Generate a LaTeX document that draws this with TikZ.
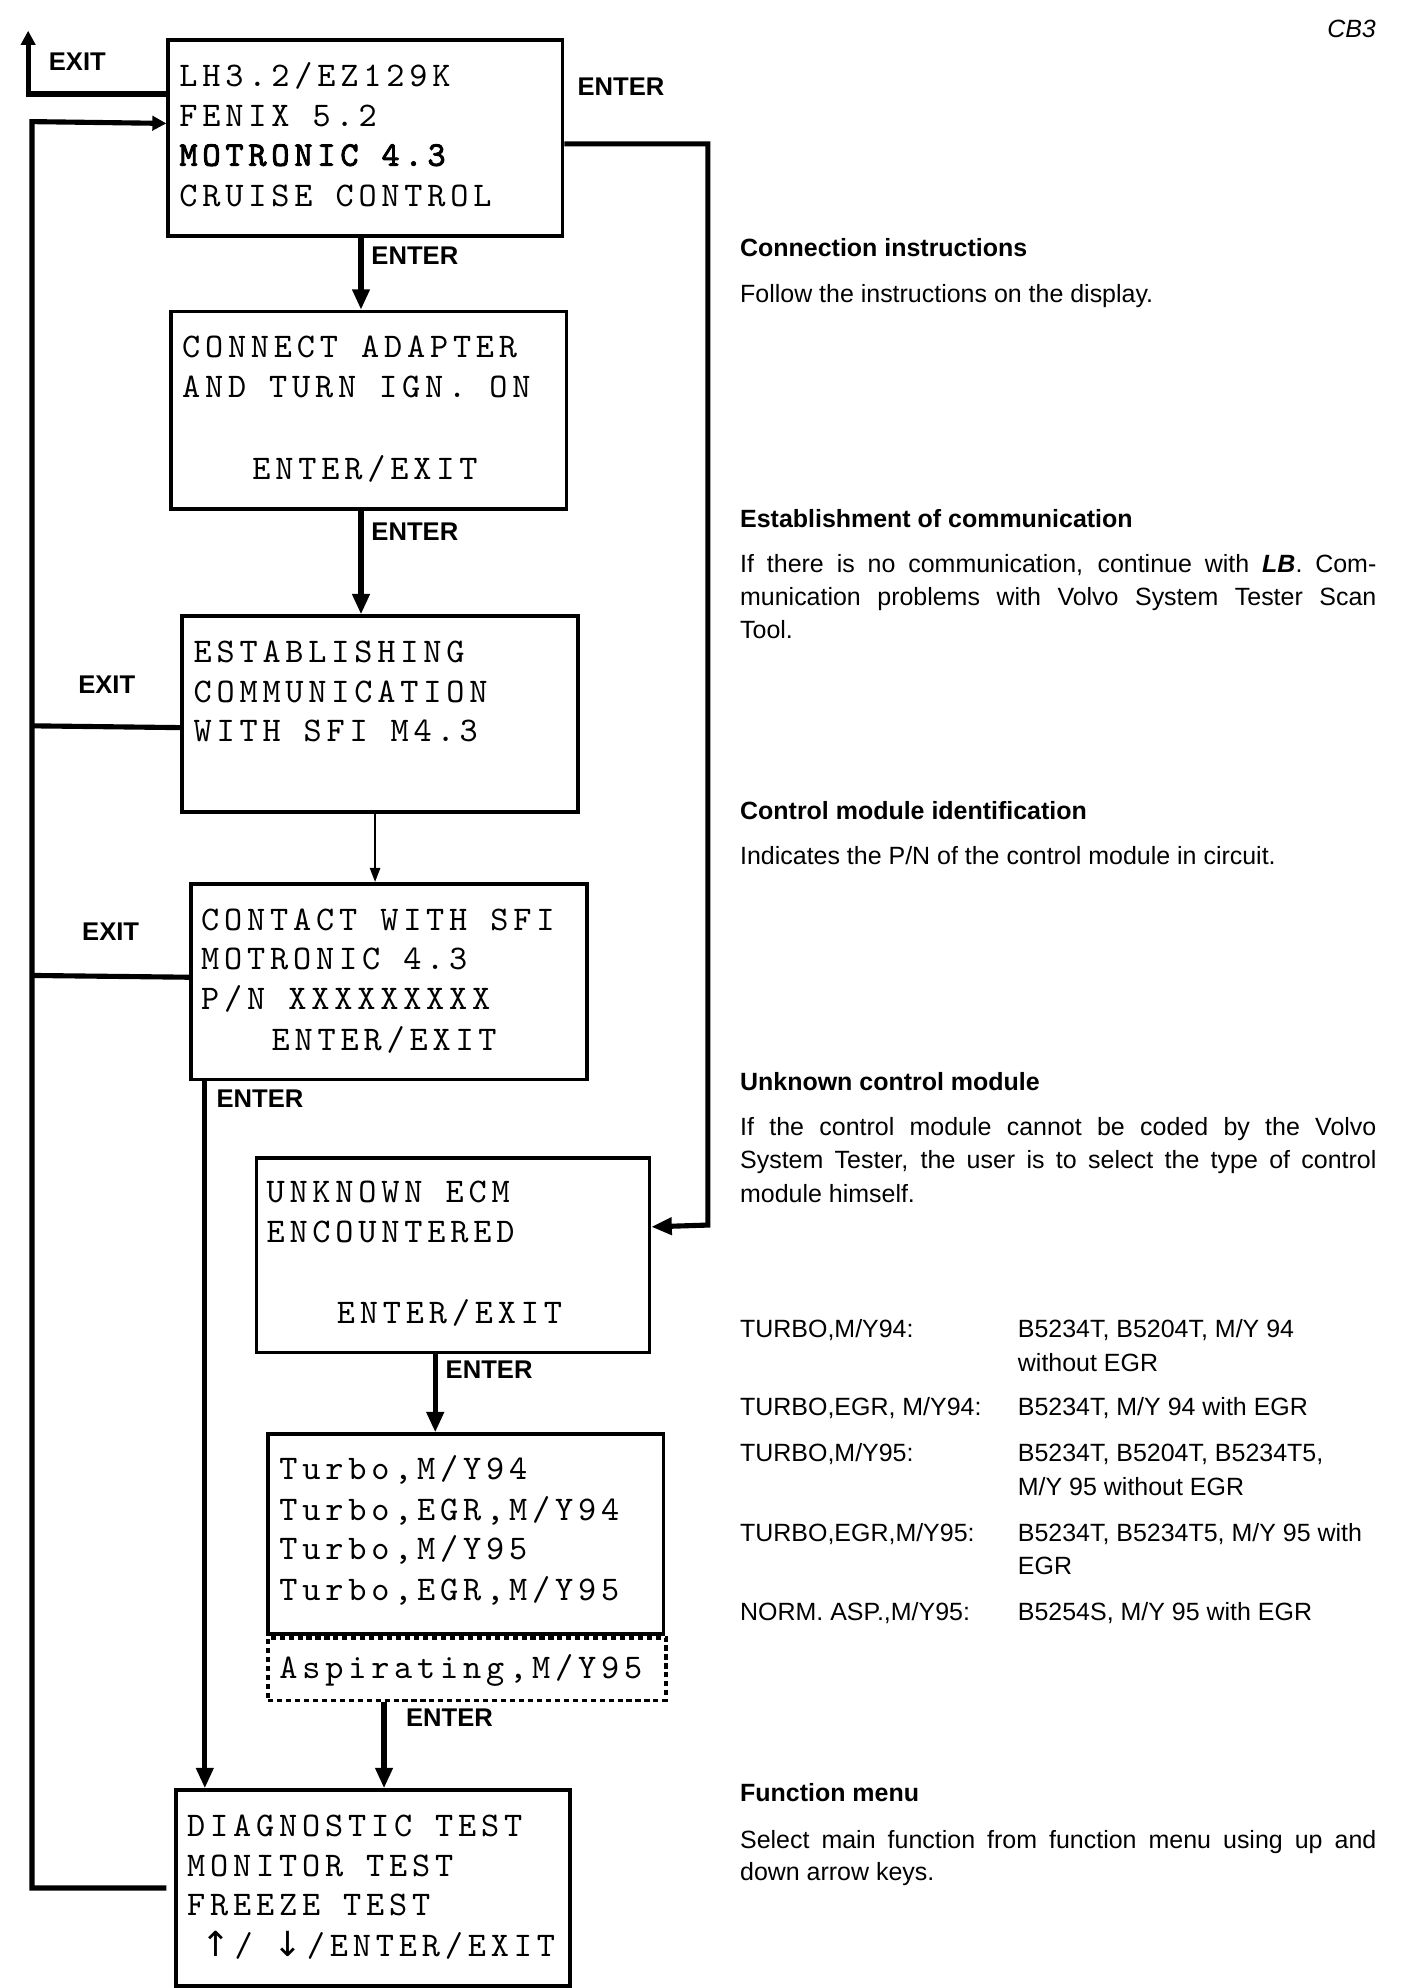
\documentclass[tikz,border=0pt]{standalone}
\usepackage{fontspec}
\setmainfont{Liberation Sans}
\newfontfamily\boxfont[LetterSpace=14]{lmmono10-regular.otf}
\newfontfamily\boxbold[LetterSpace=14,FakeBold=2.5]{lmmono10-regular.otf}
\newfontfamily\arrowfont{DejaVu Sans}
\usetikzlibrary{arrows.meta}
\tikzset{
  box/.style={draw, line width=2.8pt, inner sep=0pt, anchor=north west},
  dotbox/.style={draw, line width=2.8pt, dash pattern=on 4pt off 3pt, inner sep=0pt, anchor=north west},
  mono/.style={font=\boxfont\fontsize{27}{30}\selectfont, inner sep=0pt, anchor=base west},
  monob/.style={font=\boxbold\fontsize{27}{30}\selectfont, inner sep=0pt, anchor=base west},
  arrowtxt/.style={font=\arrowfont\fontsize{27}{30}\selectfont, inner sep=0pt, anchor=base west},
  lbl/.style={font=\bfseries\fontsize{20}{24}\selectfont, inner sep=0pt, anchor=west},
  head/.style={font=\bfseries\fontsize{19.5}{26}\selectfont, inner sep=0pt, anchor=base west},
  body/.style={font=\fontsize{19.5}{26}\selectfont, inner sep=0pt, anchor=base west},
  conn/.style={line width=4pt, line join=miter},
  arr/.style={conn, -{Triangle[length=16pt,width=13pt]}},
  arrsm/.style={conn, -{Triangle[length=11pt,width=11pt]}},
  thinarr/.style={line width=1.6pt, -{Triangle[length=11pt,width=8pt]}}
}
\begin{document}
\begin{tikzpicture}[x=1pt,y=-1pt]
\useasboundingbox[fill=white] (0,0) rectangle (1100,1553);

% boxes
\node[box, minimum width=308pt, minimum height=153pt] (b1) at (130,30) {};
\node[box, minimum width=309pt, minimum height=154pt] (b2) at (132,242) {};
\node[box, minimum width=309pt, minimum height=153pt] (b3) at (141,480) {};
\node[box, minimum width=309pt, minimum height=153pt] (b4) at (148,689) {};
\node[box, minimum width=307pt, minimum height=152pt] (b5) at (199,903) {};
\node[box, minimum width=309pt, minimum height=156pt] (b6) at (208,1119) {};
\node[dotbox, minimum width=311pt, minimum height=49pt] (bd) at (208,1278) {};
\node[box, minimum width=308pt, minimum height=153pt] (b7) at (136,1397) {};

% box texts
\node[mono] (t11) at (140,67.5) {LH3.2/EZ129K};
\node[mono] (t12) at (140,98.5) {FENIX 5.2};
\node[monob] (t13) at (140,129.5) {MOTRONIC 4.3};
\node[mono] (t14) at (140,161.5) {CRUISE CONTROL};

\node[mono] (t21) at (142,279.5) {CONNECT ADAPTER};
\node[mono] (t22) at (142,310.5) {AND TURN IGN. ON};
\node[mono] (t23) at (197,374.5) {ENTER/EXIT};

\node[mono] (t31) at (151,517.5) {ESTABLISHING};
\node[mono] (t32) at (151,548.5) {COMMUNICATION};
\node[mono] (t33) at (151,579.5) {WITH SFI M4.3};

\node[mono] (t41) at (157,726.5) {CONTACT WITH SFI};
\node[mono] (t42) at (157,757.5) {MOTRONIC 4.3};
\node[mono] (t43) at (157,788.5) {P/N XXXXXXXXX};
\node[mono] (t44) at (212,820.5) {ENTER/EXIT};

\node[mono] (t51) at (208,939.5) {UNKNOWN ECM};
\node[mono] (t52) at (208,970.5) {ENCOUNTERED};
\node[mono] (t53) at (263,1033.5) {ENTER/EXIT};

\node[mono] (t61) at (218,1155.5) {Turbo,M/Y94};
\node[mono] (t62) at (218,1187.5) {Turbo,EGR,M/Y94};
\node[mono] (t63) at (218,1218.5) {Turbo,M/Y95};
\node[mono] (t64) at (218,1250.5) {Turbo,EGR,M/Y95};
\node[mono] (td1) at (218,1311.5) {Aspirating,M/Y95};

\node[mono] (t71) at (146,1434.5) {DIAGNOSTIC TEST};
\node[mono] (t72) at (146,1465.5) {MONITOR TEST};
\node[mono] (t73) at (146,1496.5) {FREEZE TEST};
\node[arrowtxt] (a1) at (157,1528.5) {↑};
\node[mono] (s1) at ([xshift=3pt]a1.base east) {/};
\node[arrowtxt] (a2) at ([xshift=16pt]s1.base east) {↓};
\node[mono] (s2) at ([xshift=3pt]a2.base east) {/ENTER/EXIT};

% helper coordinates
\coordinate (x160) at (160,0);
\coordinate (x282) at (282,0);
\coordinate (x293) at (293,0);
\coordinate (x300) at (300,0);
\coordinate (x340) at (340,0);
\coordinate (topexit) at (22,24);
\coordinate (loopc) at (25,95);
\coordinate (rightc) at (553,957);
\coordinate (e3) at (25,567);
\coordinate (e4) at (25,762);

% connectors
\draw[arrsm] ([yshift=34.5pt]b1.west) -| (topexit);
\draw[arrsm] ([xshift=-6pt]b7.west) -| (loopc) -- ([yshift=11.5pt]b1.west);
\draw[arr] ([yshift=-4.5pt]b1.east) -| (rightc) -- ([yshift=22pt]b5.east);
\draw[conn] ([yshift=-10.5pt]b3.west) -- (e3);
\draw[conn] ([yshift=3.5pt]b4.west) -- (e4);

\draw[arr] (b1.south -| x282) -- (b2.north -| x282);
\draw[arr] (b2.south -| x282) -- (b3.north -| x282);
\draw[thinarr] (b3.south -| x293) -- (b4.north -| x293);
\draw[arr] (b4.south -| x160) -- (b7.north -| x160);
\draw[arr] (b5.south -| x340) -- (b6.north -| x340);
\draw[arr] (bd.south -| x300) -- (b7.north -| x300);

% connector labels
\node[lbl] (lx1) at (38,48) {EXIT};
\node[lbl] (le0) at (451,68) {ENTER};
\node[lbl] (le1) at (290,200) {ENTER};
\node[lbl] (le2) at (290,415) {ENTER};
\node[lbl] (lx2) at (61,535) {EXIT};
\node[lbl] (lx3) at (64,728) {EXIT};
\node[lbl] (le3) at (169,858) {ENTER};
\node[lbl] (le4) at (348,1070) {ENTER};
\node[lbl] (le5) at (317,1342) {ENTER};

% right column
\node[font=\itshape\fontsize{19.5}{24}\selectfont, inner sep=0pt, anchor=base east] (cb3) at (1075,29) {CB3};

\node[head] (h1) at (578,200) {Connection instructions};
\node[body] (p11) at (578,236) {Follow the instructions on the display.};

\node[head] (h2) at (578,412) {Establishment of communication};
\node[body] (p21) at (578,447) {\makebox[497pt][s]{If there is no communication, continue with \textbf{\textit{LB}}. Com-}};
\node[body] (p22) at (578,473) {\makebox[497pt][s]{munication problems with Volvo System Tester Scan}};
\node[body] (p23) at (578,499) {Tool.};

\node[head] (h3) at (578,640) {Control module identification};
\node[body] (p31) at (578,675) {Indicates the P/N of the control module in circuit.};

\node[head] (h4) at (578,852) {Unknown control module};
\node[body] (p41) at (578,887) {\makebox[497pt][s]{If the control module cannot be coded by the Volvo}};
\node[body] (p42) at (578,913) {\makebox[497pt][s]{System Tester, the user is to select the type of control}};
\node[body] (p43) at (578,939) {module himself.};

\node[body] (r1a) at (578,1045) {TURBO,M/Y94:};
\node[body] (r1b) at (795,1045) {B5234T, B5204T, M/Y 94};
\node[body] (r1c) at (795,1071) {without EGR};
\node[body] (r2a) at (578,1106) {TURBO,EGR, M/Y94:};
\node[body] (r2b) at (795,1106) {B5234T, M/Y 94 with EGR};
\node[body] (r3a) at (578,1142) {TURBO,M/Y95:};
\node[body] (r3b) at (795,1142) {B5234T, B5204T, B5234T5,};
\node[body] (r3c) at (795,1168) {M/Y 95 without EGR};
\node[body] (r4a) at (578,1204) {TURBO,EGR,M/Y95:};
\node[body] (r4b) at (795,1204) {B5234T, B5234T5, M/Y 95 with};
\node[body] (r4c) at (795,1230) {EGR};
\node[body] (r5a) at (578,1266) {NORM. ASP.,M/Y95:};
\node[body] (r5b) at (795,1266) {B5254S, M/Y 95 with EGR};

\node[head] (h5) at (578,1407) {Function menu};
\node[body] (p51) at (578,1444) {\makebox[497pt][s]{Select main function from function menu using up and}};
\node[body] (p52) at (578,1469) {down arrow keys.};
\end{tikzpicture}
\end{document}
